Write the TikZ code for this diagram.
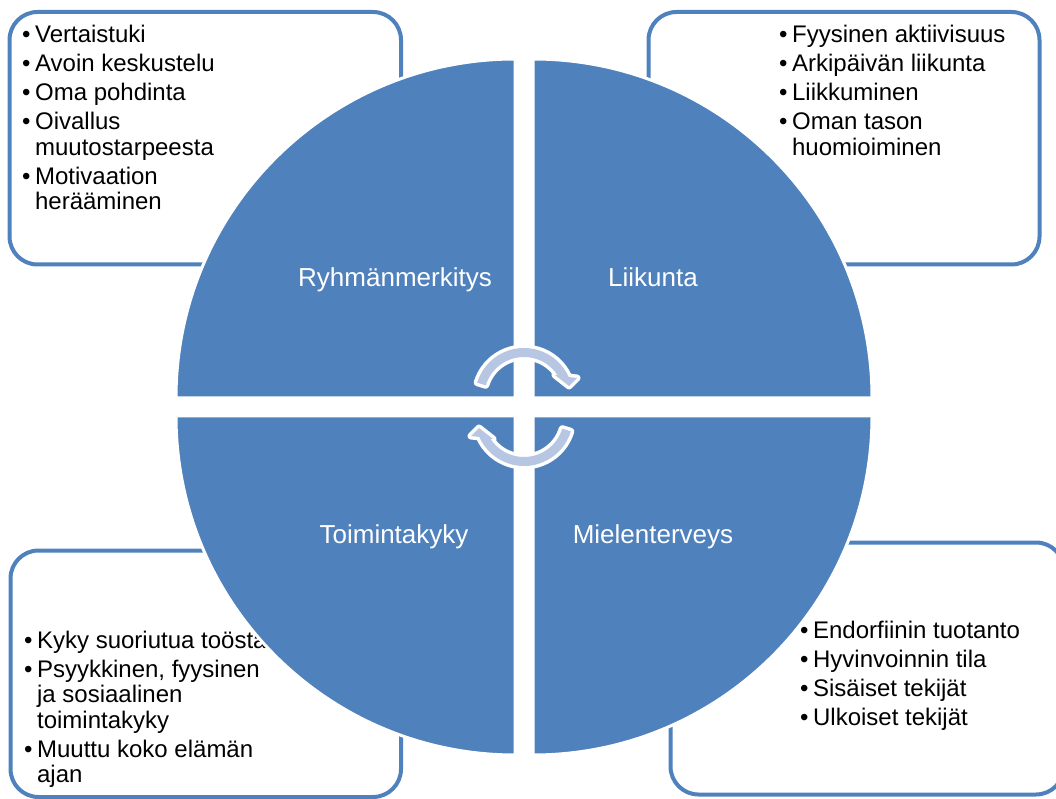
\documentclass[tikz,border=0pt]{standalone}
\usepackage{fontspec}
\setmainfont{Liberation Sans}
\definecolor{quadblue}{RGB}{79,129,189}
\definecolor{arrowblue}{RGB}{183,198,226}

\begin{document}
\begin{tikzpicture}[x=1pt,y=1pt,
  infobox/.style={draw=quadblue, line width=4pt, fill=white, rounded corners=28pt},
  quad/.style={fill=quadblue, draw=white, line width=3pt},
  bullets/.style={anchor=base west, inner sep=0pt, font=\fontsize{24}{25.5}\selectfont},
  qlabel/.style={anchor=base, inner sep=0pt, text=white, font=\fontsize{26}{30}\selectfont},
  cyclearrow/.style={fill=arrowblue, preaction={draw=white, line width=7pt, line join=round}}]
   \useasboundingbox (0,0) rectangle (1056,798);

   % boxes behind the circle
   \draw[infobox] (9.5,533.5) rectangle (401,786);
   \draw[infobox] (648.5,533.5) rectangle (1039.5,786);
   \draw[infobox] (10.5,1) rectangle (401,247.5);
   \draw[infobox] (670.5,3.5) rectangle (1064,255.5);

   \node[bullets] (ryhmalist) at (22,755) {\begin{tabular}[t]{@{}l@{\hspace{4.5pt}}l@{}}
     \textbullet & Vertaistuki\\[3.5pt]
     \textbullet & Avoin keskustelu\\[3.5pt]
     \textbullet & Oma pohdinta\\[3.5pt]
     \textbullet & Oivallus\\
                 & muutostarpeesta\\[3.5pt]
     \textbullet & Motivaation\\
                 & herääminen\end{tabular}};
   \node[bullets] (liikuntalist) at (779,755) {\begin{tabular}[t]{@{}l@{\hspace{4.5pt}}l@{}}
     \textbullet & Fyysinen aktiivisuus\\[3.5pt]
     \textbullet & Arkipäivän liikunta\\[3.5pt]
     \textbullet & Liikkuminen\\[3.5pt]
     \textbullet & Oman tason\\
                 & huomioiminen\end{tabular}};
   \node[bullets] (toimintalist) at (24,150) {\begin{tabular}[t]{@{}l@{\hspace{4.5pt}}l@{}}
     \textbullet & Kyky suoriutua toöstä\\[3.5pt]
     \textbullet & Psyykkinen, fyysinen\\
                 & ja sosiaalinen\\
                 & toimintakyky\\[3.5pt]
     \textbullet & Muuttu koko elämän\\
                 & ajan\end{tabular}};
   \node[bullets] (mielilist) at (800,160) {\begin{tabular}[t]{@{}l@{\hspace{4.5pt}}l@{}}
     \textbullet & Endorfiinin tuotanto\\[3.5pt]
     \textbullet & Hyvinvoinnin tila\\[3.5pt]
     \textbullet & Sisäiset tekijät\\[3.5pt]
     \textbullet & Ulkoiset tekijät\end{tabular}};

   % four quarters of the circle
   \draw[quad] (515,400) -- ++(-339,0) arc[start angle=180, end angle=90, radius=339pt] -- cycle;
   \draw[quad] (533,400) -- ++(0,339) arc[start angle=90, end angle=0, radius=339pt] -- cycle;
   \draw[quad] (515,382) -- ++(0,-339) arc[start angle=270, end angle=180, radius=339pt] -- cycle;
   \draw[quad] (533,382) -- ++(339,0) arc[start angle=0, end angle=-90, radius=339pt] -- cycle;

   \node[qlabel] (ryhma) at (395,511) {Ryhmänmerkitys};
   \node[qlabel] (liikunta) at (653,511) {Liikunta};
   \node[qlabel] (toiminta) at (394,255) {Toimintakyky};
   \node[qlabel] (mieli) at (653,255) {Mielenterveys};

   % the two circular arrows
   \foreach \ay/\rot in {401/0, 381/180} {
     \begin{scope}[shift={(524,\ay)}, rotate=\rot]
       \path[cyclearrow] (163:49pt) arc[start angle=163, end angle=24, radius=49pt]
         -- (53pt,19pt) -- (45pt,11pt) -- (31pt,22pt) -- (33:40pt)
         arc[start angle=33, end angle=163, radius=40pt] -- cycle;
     \end{scope}
   }
\end{tikzpicture}
\end{document}
